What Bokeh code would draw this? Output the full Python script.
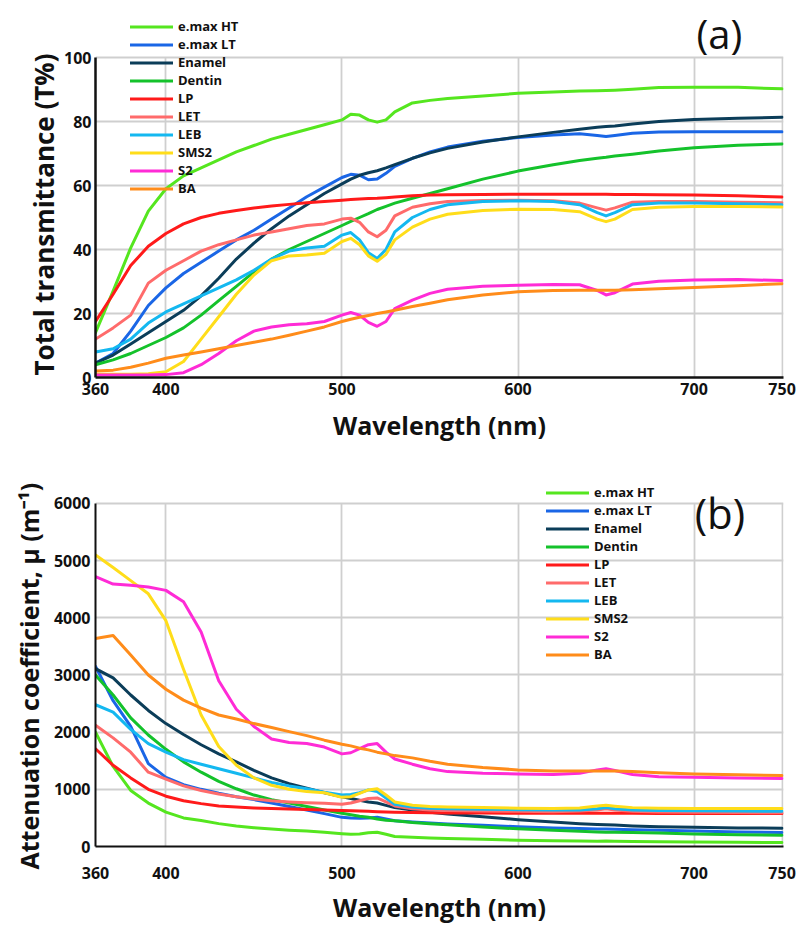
from bokeh.plotting import figure
from bokeh.models import Range1d, FixedTicker, Label, BoxAnnotation, Title
from bokeh.layouts import column
from bokeh.embed import file_html
from bokeh.resources import INLINE

# ---------------- data ----------------
wavelength = [360, 370, 380, 390, 400, 410, 420, 430, 440, 450, 460, 470, 480, 490, 500,
              505, 510, 515, 520, 525, 530, 540, 550, 560, 580, 600, 620, 635, 645, 650,
              655, 665, 680, 700, 725, 750]

names = ["e.max HT", "e.max LT", "Enamel", "Dentin", "LP", "LET", "LEB", "SMS2", "S2", "BA"]
colors = ["#55E61F", "#1A66E6", "#0B3D59", "#14C22B", "#FF1A1A", "#FF6B6B",
          "#14B8F0", "#FFDD1A", "#FF2BD6", "#FF8C1A"]

# (a) Total transmittance (T%)
emax_ht_T = [14, 27, 40.5, 52, 59, 63, 65.5, 68, 70.5, 72.5, 74.5, 76, 77.5, 79, 80.5, 82.3, 82, 80.5, 79.8, 80.5, 83, 85.8, 86.6, 87.2, 88, 88.8, 89.2, 89.5, 89.6, 89.7, 89.8, 90.1, 90.6, 90.7, 90.7, 90.2]
emax_lt_T = [4.5, 7.5, 14.5, 22.5, 28, 32.5, 36, 39.5, 43, 46, 49.5, 53, 56.5, 59.5, 62.5, 63.5, 63.2, 61.8, 62, 63.8, 66, 68.5, 70.5, 72, 73.8, 75, 75.8, 76.2, 75.6, 75.3, 75.6, 76.3, 76.7, 76.8, 76.8, 76.8]
enamel_T = [4.5, 7, 10.5, 14, 17.5, 21, 25.5, 31, 37, 42, 46.5, 50.5, 54, 57.5, 60.5, 62, 63.2, 64, 64.6, 65.5, 66.5, 68.5, 70.2, 71.6, 73.6, 75.2, 76.6, 77.6, 78.2, 78.4, 78.6, 79.2, 80, 80.6, 81, 81.3]
dentin_T = [4, 5.5, 7.5, 10, 12.5, 15.5, 19.5, 24, 28.5, 33, 37, 40, 42.5, 45, 47.5, 48.8, 50, 51.2, 52.5, 53.5, 54.5, 56, 57.5, 59, 62, 64.5, 66.5, 67.8, 68.5, 68.8, 69.2, 69.8, 70.8, 71.8, 72.6, 73]
lp_T = [17.5, 26, 35, 41, 45, 48, 50, 51.3, 52.2, 53, 53.6, 54.1, 54.6, 55, 55.4, 55.6, 55.8, 55.9, 56, 56.2, 56.4, 56.8, 57, 57.1, 57.2, 57.3, 57.3, 57.3, 57.3, 57.3, 57.2, 57.2, 57.1, 57, 56.8, 56.4]
let_T = [12, 15.5, 19.5, 29.5, 33.5, 36.5, 39.5, 41.5, 43, 44.5, 45.5, 46.5, 47.5, 48, 49.5, 49.8, 48.5, 45.5, 44, 46, 50.5, 53.2, 54.3, 55, 55.3, 55.4, 55.2, 54.5, 53, 52.3, 53, 54.8, 55, 55, 54.8, 54.6]
leb_T = [8, 9, 12, 17, 20.5, 23, 25.5, 28, 30.5, 33.5, 37, 39.5, 40.5, 41, 44.5, 45.3, 43, 39, 37.2, 40, 45.5, 50, 52.5, 54, 55, 55.2, 55, 54, 51.5, 50.5, 51.5, 54, 54.5, 54.5, 54.3, 54]
sms2_T = [1, 1, 1, 1.2, 1.8, 5, 12, 19, 26, 32, 36.5, 38, 38.3, 38.8, 42.5, 43.5, 41.5, 38, 36.3, 38.5, 43, 47, 49.5, 51, 52.2, 52.6, 52.5, 51.8, 49.5, 48.7, 49.5, 52.5, 53.2, 53.4, 53.4, 53.3]
s2_T = [0.8, 0.8, 0.8, 0.8, 0.9, 1.5, 4, 7.5, 11.5, 14.5, 15.8, 16.5, 16.8, 17.5, 19.5, 20.3, 19.5, 17.2, 16, 17.5, 21.5, 24.2, 26.3, 27.6, 28.5, 28.8, 29.1, 29, 27.2, 25.8, 26.5, 29.2, 30.1, 30.5, 30.6, 30.3]
ba_T = [2, 2.3, 3.2, 4.5, 6, 7, 8, 9, 10, 11, 12, 13.2, 14.5, 15.8, 17.5, 18.2, 18.8, 19.4, 20, 20.5, 21, 22.2, 23.2, 24.3, 25.8, 26.8, 27.2, 27.3, 27.3, 27.3, 27.3, 27.4, 27.7, 28.1, 28.7, 29.3]

# (b) Attenuation coefficient mu (m^-1)
emax_ht_mu = [2000, 1400, 980, 760, 600, 500, 455, 400, 360, 330, 305, 285, 270, 250, 225, 215, 220, 240, 250, 215, 175, 160, 150, 140, 125, 110, 100, 95, 92, 95, 92, 88, 82, 78, 74, 70]
emax_lt_mu = [3150, 2550, 2100, 1450, 1210, 1080, 1000, 930, 870, 820, 760, 700, 640, 575, 510, 500, 495, 500, 510, 480, 450, 430, 410, 395, 370, 345, 325, 315, 305, 305, 300, 295, 285, 270, 255, 245]
enamel_mu = [3110, 2950, 2650, 2380, 2150, 1960, 1780, 1620, 1480, 1330, 1200, 1100, 1020, 940, 870, 840, 810, 780, 760, 720, 680, 640, 600, 570, 520, 470, 430, 400, 385, 380, 375, 360, 345, 335, 325, 320]
dentin_mu = [3000, 2650, 2250, 1950, 1700, 1480, 1300, 1140, 1010, 900, 820, 760, 700, 640, 580, 555, 530, 510, 480, 460, 450, 420, 400, 380, 340, 310, 285, 265, 255, 250, 250, 245, 235, 220, 205, 195]
lp_mu = [1710, 1420, 1200, 1000, 880, 800, 750, 710, 690, 675, 665, 655, 648, 640, 630, 625, 620, 615, 610, 605, 600, 595, 590, 588, 585, 582, 580, 580, 580, 580, 580, 580, 578, 578, 578, 578]
let_mu = [2120, 1900, 1650, 1300, 1180, 1060, 980, 920, 870, 830, 800, 780, 765, 755, 740, 760, 800, 840, 850, 780, 710, 660, 640, 630, 620, 615, 610, 620, 640, 660, 640, 615, 605, 600, 595, 590]
leb_mu = [2480, 2350, 2050, 1800, 1650, 1520, 1440, 1360, 1280, 1200, 1120, 1060, 1010, 950, 900, 910, 940, 990, 960, 850, 740, 690, 670, 660, 650, 645, 640, 640, 660, 680, 660, 640, 630, 625, 620, 615]
sms2_mu = [5100, 4880, 4650, 4420, 3950, 3100, 2300, 1750, 1420, 1200, 1070, 1000, 960, 940, 860, 870, 930, 990, 1010, 900, 780, 720, 700, 690, 680, 670, 665, 675, 710, 720, 705, 680, 670, 665, 665, 665]
s2_mu = [4720, 4590, 4570, 4540, 4480, 4280, 3750, 2900, 2400, 2100, 1880, 1820, 1800, 1740, 1620, 1640, 1710, 1780, 1800, 1650, 1530, 1440, 1360, 1310, 1280, 1270, 1260, 1280, 1340, 1360, 1330, 1260, 1220, 1210, 1200, 1190]
ba_mu = [3640, 3690, 3350, 3000, 2750, 2560, 2420, 2300, 2230, 2150, 2080, 2010, 1940, 1860, 1790, 1760, 1720, 1690, 1650, 1620, 1590, 1550, 1490, 1440, 1380, 1340, 1320, 1320, 1320, 1320, 1320, 1310, 1290, 1270, 1255, 1240]

x_ticks = [360, 400, 500, 600, 700, 750]
T_ticks = [0, 20, 40, 60, 80, 100]
mu_ticks = [0, 1000, 2000, 3000, 4000, 5000, 6000]

series_T = [emax_ht_T, emax_lt_T, enamel_T, dentin_T, lp_T, let_T, leb_T, sms2_T, s2_T, ba_T]
series_mu = [emax_ht_mu, emax_lt_mu, enamel_mu, dentin_mu, lp_mu, let_mu, leb_mu, sms2_mu, s2_mu, ba_mu]

FONT = "Open Sans"


def style(p, xt, yt, ytop):
    p.xaxis.ticker = FixedTicker(ticks=xt)
    p.yaxis.ticker = FixedTicker(ticks=yt)
    p.xgrid.ticker = FixedTicker(ticks=xt)
    p.ygrid.ticker = FixedTicker(ticks=yt)
    p.yaxis.bounds = (0, ytop)
    p.yaxis.axis_label_standoff = 0
    for g in (p.xgrid, p.ygrid):
        g.grid_line_color = "#cfcfcf"
        g.grid_line_width = 1.8
    p.outline_line_color = None
    # plot box ends at the top tick: vertical grid lines stop there
    try:
        p.xgrid.cross_bounds = (0, ytop)
    except AttributeError:
        p.add_layout(BoxAnnotation(bottom=ytop * 1.003, fill_color="white", fill_alpha=1,
                                   line_color=None, level="underlay"))
    for ax in (p.xaxis, p.yaxis):
        ax.axis_line_color = "#111111"
        ax.axis_line_width = 2.5
        ax.major_tick_line_color = None
        ax.minor_tick_line_color = None
        ax.major_tick_out = 0
        ax.major_tick_in = 0
        ax.major_label_text_font = FONT
        ax.major_label_text_font_style = "bold"
        ax.major_label_text_font_size = "16px"
        ax.major_label_text_color = "#111111"
        ax.axis_label_text_font = FONT
        ax.axis_label_text_font_style = "bold"
        ax.axis_label_text_font_size = "25px"
        ax.axis_label_text_color = "#111111"


def y_title(p, text, offset, standoff, size):
    # vertical axis title placed along the plotted 0..top part of the frame
    p.add_layout(Title(text=text, align="left", offset=offset, standoff=standoff,
                       vertical_align="bottom", text_font=FONT, text_font_style="bold",
                       text_font_size=size, text_color="#111111"), "left")


def add_lines(p, ys):
    for name, color, y in zip(names, colors, ys):
        p.line(wavelength, y, line_color=color, line_width=3, line_join="round",
               line_cap="round", legend_label=name)


def style_legend(p, loc):
    lg = p.legend[0]
    lg.location = loc
    lg.background_fill_alpha = 0
    lg.border_line_color = None
    lg.padding = 0
    lg.margin = 0
    lg.spacing = 0
    lg.glyph_width = 43
    lg.glyph_height = 17
    lg.label_height = 17
    lg.label_standoff = 5
    lg.label_text_font = FONT
    lg.label_text_font_style = "bold"
    lg.label_text_font_size = "13px"
    lg.label_text_line_height = 1.0
    lg.label_text_color = "#111111"
    lg.label_text_baseline = "middle"


# ---------------- panel (a) ----------------
p1 = figure(width=805, height=460, output_backend="svg", toolbar_location=None,
            x_range=Range1d(360, 750.8), y_range=Range1d(0, 116.25),
            min_border_left=91, min_border_right=22, min_border_top=5, min_border_bottom=83)
add_lines(p1, series_T)
style(p1, x_ticks, T_ticks, 100)
p1.xaxis.axis_label = "Wavelength (nm)"
p1.xaxis.major_label_standoff = 5
p1.xaxis.axis_label_standoff = 10
p1.yaxis.major_label_standoff = 4
y_title(p1, "Total transmittance (T%)", 2, 0, "26px")
style_legend(p1, (35, 180))
p1.add_layout(Label(x=714.4, y=107.5, text="(a)", text_font=FONT, text_font_size="40px",
                    text_align="center", text_baseline="middle", text_color="#111111"))

# ---------------- panel (b) ----------------
p2 = figure(width=805, height=467, output_backend="svg", toolbar_location=None,
            x_range=Range1d(360, 750.8), y_range=Range1d(0, 6402),
            min_border_left=95, min_border_right=14, min_border_top=20, min_border_bottom=81)
add_lines(p2, series_mu)
style(p2, x_ticks, mu_ticks, 6000)
p2.xaxis.axis_line_width = 2
p2.yaxis.axis_line_width = 2
p2.xaxis.axis_label = "Wavelength (nm)"
p2.xaxis.major_label_standoff = 20
p2.xaxis.axis_label_standoff = 8
p2.yaxis.major_label_standoff = 5
y_title(p2, "Attenuation coefficient, \u03bc (m\u207b\u00b9)", -23, 10, "25px")
style_legend(p2, (451, 183))
p2.add_layout(Label(x=714.7, y=5843, text="(b)", text_font=FONT, text_font_size="42px",
                    text_align="center", text_baseline="middle", text_color="#111111"))

layout = column(p1, p2, spacing=0)
open("out.html", "w").write(file_html(layout, INLINE))
